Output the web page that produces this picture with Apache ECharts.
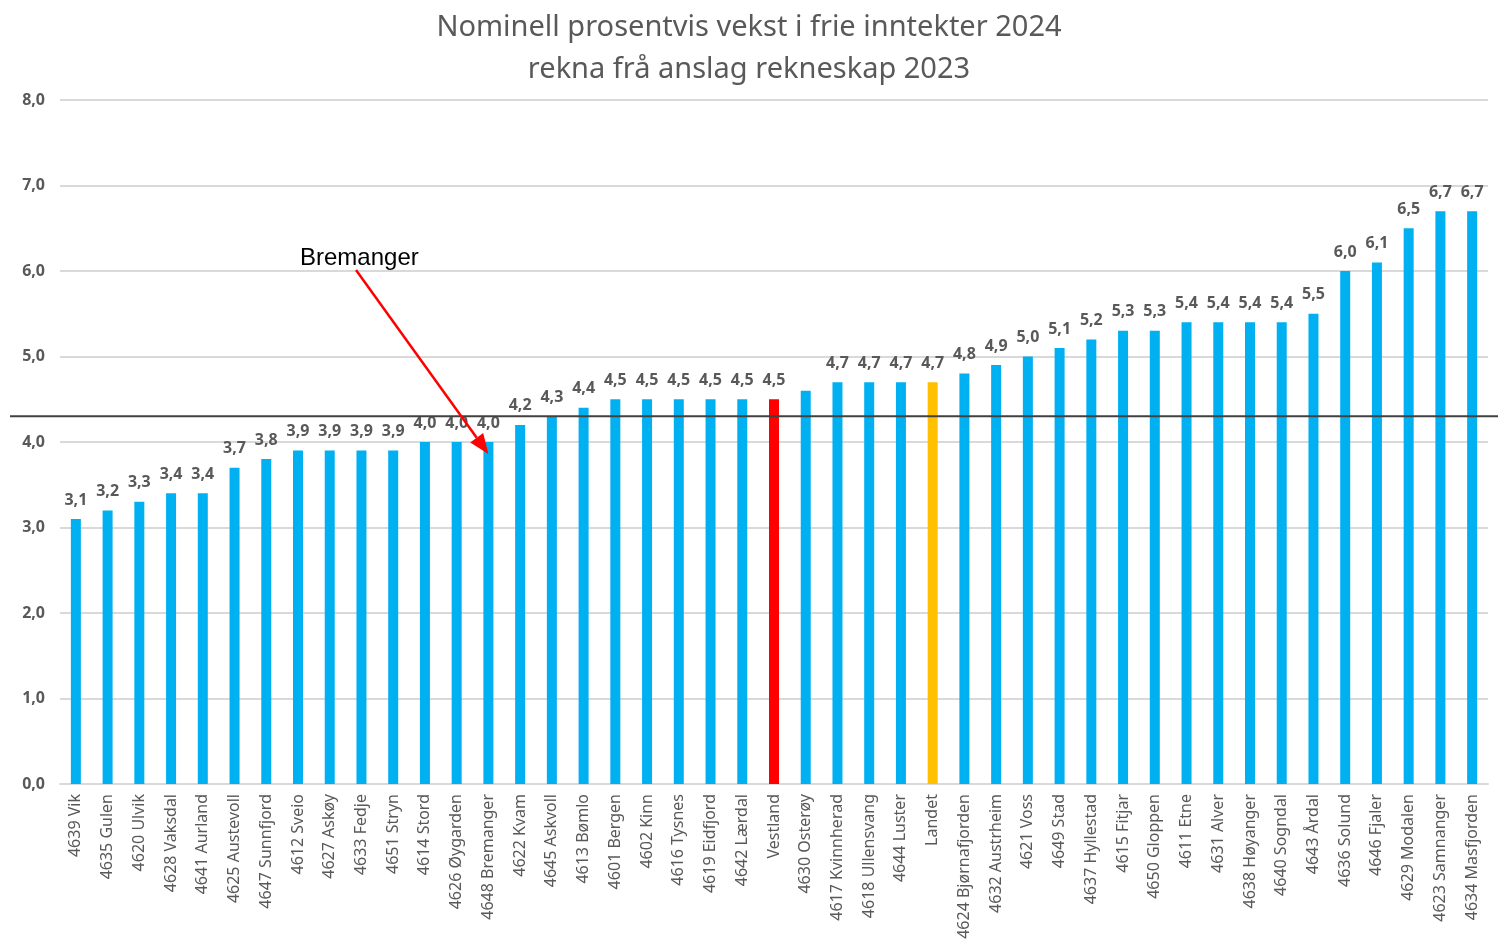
<!DOCTYPE html>
<html>
<head>
<meta charset="utf-8">
<script src="https://cdn.jsdelivr.net/npm/echarts@6/dist/echarts.min.js"></script>
<style>
  html, body { margin: 0; padding: 0; background: #fff; }
  #chart { width: 1498px; height: 947px; }
</style>
</head>
<body>
<div id="chart"></div>
<script>
// kommunar og prosentvis vekst
const kommunar = ['4639 Vik','4635 Gulen','4620 Ulvik','4628 Vaksdal','4641 Aurland','4625 Austevoll','4647 Sunnfjord',
  '4612 Sveio','4627 Askøy','4633 Fedje','4651 Stryn','4614 Stord','4626 Øygarden','4648 Bremanger','4622 Kvam',
  '4645 Askvoll','4613 Bømlo','4601 Bergen','4602 Kinn','4616 Tysnes','4619 Eidfjord','4642 Lærdal','Vestland',
  '4630 Osterøy','4617 Kvinnherad','4618 Ullensvang','4644 Luster','Landet','4624 Bjørnafjorden','4632 Austrheim',
  '4621 Voss','4649 Stad','4637 Hyllestad','4615 Fitjar','4650 Gloppen','4611 Etne','4631 Alver','4638 Høyanger',
  '4640 Sogndal','4643 Årdal','4636 Solund','4646 Fjaler','4629 Modalen','4623 Samnanger','4634 Masfjorden']
const vekst = [3.1,3.2,3.3,3.4,3.4,3.7,3.8,3.9,3.9,3.9,3.9,4.0,4.0,4.0,4.2,4.3,4.4,4.5,4.5,4.5,4.5,4.5,4.5,
  4.6,4.7,4.7,4.7,4.7,4.8,4.9,5.0,5.1,5.2,5.3,5.3,5.4,5.4,5.4,5.4,5.5,6.0,6.1,6.5,6.7,6.7]
const yTicks = [0,1,2,3,4,5,6,7,8]
const referanse = 4.3
const merka = '4648 Bremanger'
const utanEtikett = ['4630 Osterøy']

const farge = name => name === 'Vestland' ? '#ff0000' : (name === 'Landet' ? '#ffc000' : '#00b0f0')

const chart = echarts.init(document.getElementById('chart'))
const option = {
  animation: false,
  title: {
    text: 'Nominell prosentvis vekst i frie inntekter 2024\nrekna frå anslag rekneskap 2023',
    left: 'center',
    top: 2,
    textStyle: { fontFamily: 'Noto Sans', fontWeight: 'normal', fontSize: 29, color: '#595959', lineHeight: 42 }
  },
  grid: { left: 60, right: 10, top: 100, bottom: 163 },
  xAxis: {
    type: 'category',
    data: kommunar,
    axisLine: { lineStyle: { color: '#d9d9d9', width: 2 } },
    axisTick: { show: false },
    axisLabel: { interval: 0, rotate: 90, color: '#595959', fontFamily: 'Noto Sans', fontSize: 16, margin: 10 }
  },
  yAxis: {
    type: 'value',
    min: 0, max: 8, interval: 1,
    axisLine: { show: false },
    axisTick: { show: false },
    splitLine: { lineStyle: { color: '#d9d9d9', width: 2 } },
    axisLabel: {
      color: '#595959', fontFamily: 'Noto Sans', fontWeight: 'bold', fontSize: 16, margin: 15,
      formatter: v => yTicks.includes(v) ? v.toFixed(1).replace('.', ',') : ''
    }
  },
  series: [{
    type: 'bar',
    barWidth: 10,
    data: vekst.map((v, i) => ({
      value: v,
      itemStyle: { color: farge(kommunar[i]) },
      label: { show: !utanEtikett.includes(kommunar[i]) }
    })),
    label: {
      show: true, position: 'top', distance: 11,
      color: '#595959', fontFamily: 'Noto Sans', fontWeight: 'bold', fontSize: 16,
      formatter: p => p.value.toFixed(1).replace('.', ',')
    }
  }]
}
chart.setOption(option)

// referanselinje og merknad
const yRef = chart.convertToPixel({ yAxisIndex: 0 }, referanse)
const idx = kommunar.indexOf(merka)
const bar = chart.convertToPixel({ seriesIndex: 0 }, [idx, vekst[idx]])
const tip = [bar[0], bar[1] + 12]
const start = [356, 270]
const ang = Math.atan2(tip[1] - start[1], tip[0] - start[0])
const L = 20, W = 8
const bx = tip[0] - L * Math.cos(ang), by = tip[1] - L * Math.sin(ang)
chart.setOption({
  graphic: [
    { type: 'line', shape: { x1: 10, y1: yRef, x2: 1498, y2: yRef }, style: { stroke: '#404040', lineWidth: 2 }, z: 10 },
    { type: 'text', left: 300, top: 246, style: { text: 'Bremanger', font: '24px "Liberation Sans"', fill: '#000' }, z: 10 },
    { type: 'line', shape: { x1: start[0], y1: start[1], x2: bx, y2: by }, style: { stroke: '#ff0000', lineWidth: 2.5 }, z: 10 },
    { type: 'polygon', shape: { points: [
        [tip[0], tip[1]],
        [bx + W * Math.sin(ang), by - W * Math.cos(ang)],
        [bx - W * Math.sin(ang), by + W * Math.cos(ang)]
      ] }, style: { fill: '#ff0000' }, z: 11 }
  ]
})
</script>
</body>
</html>
